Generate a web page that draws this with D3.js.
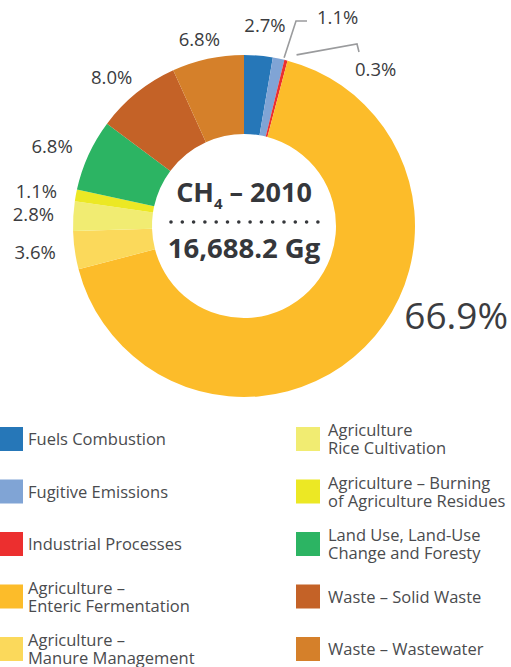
<!DOCTYPE html>
<html>
<head>
<meta charset="utf-8">
<script src="https://cdn.jsdelivr.net/npm/d3@7"></script>
<style>
  body { margin: 0; background: #fff; }
  text { font-family: "Open Sans", "Noto Sans", sans-serif; }
</style>
</head>
<body>
<div id="chart"></div>
<script>
// CH4 emissions by source, 2010 (percent of total)
const categories = [
  "Fuels Combustion", "Fugitive Emissions", "Industrial Processes",
  "Agriculture – Enteric Fermentation", "Agriculture – Manure Management",
  "Agriculture Rice Cultivation", "Agriculture – Burning of Agriculture Residues",
  "Land Use, Land-Use Change and Foresty", "Waste – Solid Waste", "Waste – Wastewater"
];
const shares = [2.7, 1.1, 0.3, 66.9, 3.6, 2.8, 1.1, 6.8, 8.0, 6.8];
const colors = ["#2677b8", "#80a4d5", "#ec2f2f", "#fcbc2a", "#fbd95b",
                "#f1ec72", "#ece824", "#2cb463", "#c46227", "#d5802a"];
// legend text, split into lines as printed
const legendLines = [
  ["Fuels Combustion"], ["Fugitive Emissions"], ["Industrial Processes"],
  ["Agriculture –", "Enteric Fermentation"], ["Agriculture –", "Manure Management"],
  ["Agriculture", "Rice Cultivation"], ["Agriculture – Burning", "of Agriculture Residues"],
  ["Land Use, Land-Use", "Change and Foresty"], ["Waste – Solid Waste"], ["Waste – Wastewater"]
];
const centerTitle = "CH";
const centerSub = "4";
const centerYear = " – 2010";
const centerTotal = "16,688.2 Gg";

const width = 511, height = 667;
const cx = 244, cy = 226, R = 171, r = 92;

const svg = d3.select("#chart").append("svg")
    .attr("width", width)
    .attr("height", height);

const data = categories.map((c, i) => ({name: c, value: shares[i], color: colors[i], lines: legendLines[i]}));

const pie = d3.pie().value(d => d.value).sort(null);
const arcs = pie(data);
const arc = d3.arc().innerRadius(r).outerRadius(R);

const g = svg.append("g").attr("transform", `translate(${cx},${cy})`);

g.selectAll("path.slice")
    .data(arcs)
    .enter()
    .append("path")
    .attr("class", "slice")
    .attr("d", arc)
    .attr("fill", d => d.data.color);

// point at angle a (radians, clockwise from top), distance k
function polar(a, k) {
    return [Math.sin(a) * k, -Math.cos(a) * k];
}

const labelColor = "#3b3c40";
const fmt = v => v.toFixed(1) + "%";

arcs.forEach((d, i) => {
    const mid = (d.startAngle + d.endAngle) / 2;
    let x, y, size = 18.5;
    if (i === 1 || i === 2) {
        // thin slices get a grey leader line
        const p0 = polar(mid + (i === 1 ? 0.03 : 0.05), R + (i === 1 ? 2 : 8));
        let pts;
        if (i === 1) {
            pts = [p0, [52, -205], [63, -205]];
            x = 73; y = -202;
        } else {
            pts = [p0, [113, -182], [115, -174]];
            x = 111; y = -150;
        }
        g.append("path")
            .attr("d", d3.line()(pts))
            .attr("fill", "none")
            .attr("stroke", "#9a9b9d")
            .attr("stroke-width", 1.6);
        g.append("text")
            .attr("x", x).attr("y", y)
            .attr("font-size", size)
            .attr("fill", labelColor)
            .text(fmt(d.data.value));
        return;
    }
    if (i === 3) {
        // the big one sits out on the right
        const p = polar(mid - 0.38, R + 60);
        x = p[0]; y = p[1] + 12; size = 37;
    } else if (i === 0) {
        const p = polar(mid, R + 30);
        x = p[0] + 4; y = p[1] + 6;
    } else {
        // keep the text box just clear of the ring
        const s = Math.sin(mid), c = Math.cos(mid);
        x = s * (R + 12) + s * 28;
        y = -c * (R + 12) - c * 7 + 6;
    }
    g.append("text")
        .attr("x", x).attr("y", y)
        .attr("text-anchor", "middle")
        .attr("font-size", size)
        .attr("fill", labelColor)
        .text(fmt(d.data.value));
});

// centre block
const cText = g.append("text")
    .attr("x", 0).attr("y", -24)
    .attr("text-anchor", "middle")
    .attr("font-family", "Roboto, sans-serif")
    .attr("font-weight", "bold")
    .attr("font-size", 27)
    .attr("fill", "#35373b");
cText.append("tspan").text(centerTitle);
cText.append("tspan").attr("font-size", 15).attr("dy", 7).text(centerSub);
cText.append("tspan").attr("dy", -7).text(centerYear);

g.append("line")
    .attr("x1", -73).attr("x2", 74)
    .attr("y1", -4).attr("y2", -4)
    .attr("stroke", "#35373b")
    .attr("stroke-width", 3.6)
    .attr("stroke-linecap", "round")
    .attr("stroke-dasharray", "0 11.3");

g.append("text")
    .attr("x", 0).attr("y", 32)
    .attr("text-anchor", "middle")
    .attr("font-family", "Roboto, sans-serif")
    .attr("font-weight", "bold")
    .attr("font-size", 27.5)
    .attr("fill", "#35373b")
    .text(centerTotal);

// legend: two columns of five
const legend = svg.append("g");
const rowY = d3.scalePoint().domain(d3.range(5)).range([439, 649]);

const items = legend.selectAll("g.item")
    .data(data)
    .enter()
    .append("g")
    .attr("class", "item")
    .attr("transform", (d, i) => `translate(${i < 5 ? -1 : 296},${rowY(i % 5)})`);

items.append("rect")
    .attr("x", 0).attr("y", -12)
    .attr("width", 24).attr("height", 24)
    .attr("fill", d => d.color);

items.each(function (d, i) {
    const tx = i < 5 ? 29 : 32;
    const t = d3.select(this).append("text")
        .attr("font-size", 16.5)
        .attr("fill", "#4a4b4e");
    const n = d.lines.length;
    d.lines.forEach((ln, j) => {
        t.append("tspan")
            .attr("x", tx)
            .attr("y", n === 1 ? 6 : -3 + j * 18)
            .text(ln);
    });
});
</script>
</body>
</html>
